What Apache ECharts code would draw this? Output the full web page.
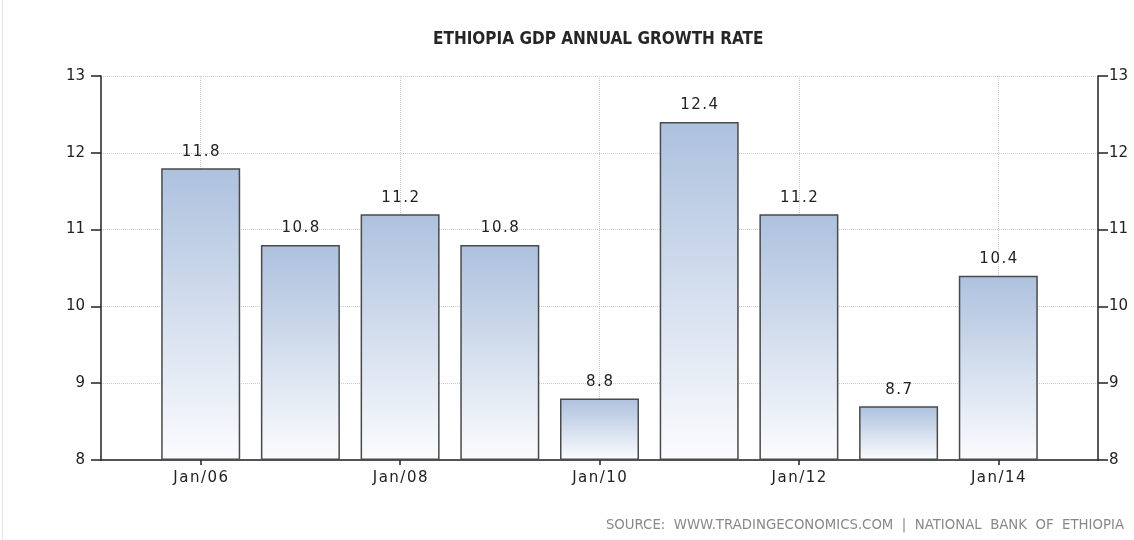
<!DOCTYPE html>
<html>
<head>
<meta charset="utf-8">
<script src="https://cdn.jsdelivr.net/npm/echarts@6/dist/echarts.min.js"></script>
<style>
  html, body { margin: 0; padding: 0; background: #fff; }
  #chart { width: 1134px; height: 540px; }
</style>
</head>
<body>
<div id="chart"></div>
<script>
// categories run Jan/05 .. Jan/15 so bars sit on the ticks
const years = ['Jan/05', 'Jan/06', 'Jan/07', 'Jan/08', 'Jan/09', 'Jan/10',
               'Jan/11', 'Jan/12', 'Jan/13', 'Jan/14', 'Jan/15'];
const growth = ['-', 11.8, 10.8, 11.2, 10.8, 8.8, 12.4, 11.2, 8.7, 10.4, '-'];
const yMin = 8;
const yMax = 13;

const chart = echarts.init(document.getElementById('chart'));

// only every other year gets a tick / label / grid line
const everyOther = (idx) => idx % 2 === 1;
// the original font is a bit tracked out, fake it with hair spaces
const spaced = (s) => String(s).split('').join('\u200A');

const yAxisBase = {
    type: 'value',
    min: yMin,
    max: yMax,
    interval: 1,
    startValue: yMin,
    axisLine: { show: true, lineStyle: { color: '#222', width: 1.5 } },
    axisTick: { show: true, length: 10, lineStyle: { color: '#222', width: 1.5 } },
    axisLabel: { color: '#222', fontSize: 15, fontFamily: 'DejaVu Sans', margin: 16 }
};

chart.setOption({
    animation: false,
    title: {
        text: 'ETHIOPIA GDP ANNUAL GROWTH RATE',
        left: 428,
        top: 26,
        textStyle: {
            color: '#262626',
            fontSize: 17,
            fontWeight: 'bold',
            fontFamily: 'DejaVu Sans Condensed'
        }
    },
    grid: { left: 101, right: 36, top: 76, bottom: 80 },
    xAxis: {
        type: 'category',
        data: years,
        boundaryGap: false,
        axisLine: { lineStyle: { color: '#222', width: 1.5 } },
        axisTick: { interval: everyOther, length: 5, lineStyle: { color: '#222', width: 1.5 } },
        axisLabel: {
            interval: everyOther,
            color: '#222',
            fontSize: 15,
            fontFamily: 'DejaVu Sans',
            margin: 11,
            formatter: spaced
        },
        splitLine: { show: true, interval: everyOther, lineStyle: { color: '#ccc', type: 'dotted' } }
    },
    yAxis: [
        Object.assign({}, yAxisBase, {
            position: 'left',
            splitLine: { show: true, lineStyle: { color: '#ccc', type: 'dotted' } }
        }),
        Object.assign({}, yAxisBase, {
            position: 'right',
            splitLine: { show: false },
            axisLabel: { color: '#222', fontSize: 15, fontFamily: 'DejaVu Sans', margin: 11 }
        })
    ],
    series: [{
        type: 'bar',
        data: growth,
        barWidth: 79,
        itemStyle: {
            borderColor: '#4a4a4a',
            borderWidth: 1.5,
            color: new echarts.graphic.LinearGradient(0, 0, 0, 1, [
                { offset: 0, color: '#adc1de' },
                { offset: 1, color: '#fbfcfe' }
            ])
        },
        label: {
            show: true,
            position: 'top',
            distance: 9,
            color: '#222',
            fontSize: 15,
            fontFamily: 'DejaVu Sans',
            formatter: (p) => spaced(p.value.toFixed(1))
        }
    }],
    graphic: [
        {
            type: 'text',
            right: 10,
            top: 519,
            style: {
                text: 'SOURCE:  WWW.TRADINGECONOMICS.COM  |  NATIONAL  BANK  OF  ETHIOPIA',
                fill: '#888',
                fontSize: 13.3,
                fontFamily: 'DejaVu Sans'
            }
        },
        {
            type: 'rect',
            left: 2,
            top: 0,
            shape: { width: 1, height: 540 },
            style: { fill: '#e6e6e6' }
        }
    ]
});
</script>
</body>
</html>
